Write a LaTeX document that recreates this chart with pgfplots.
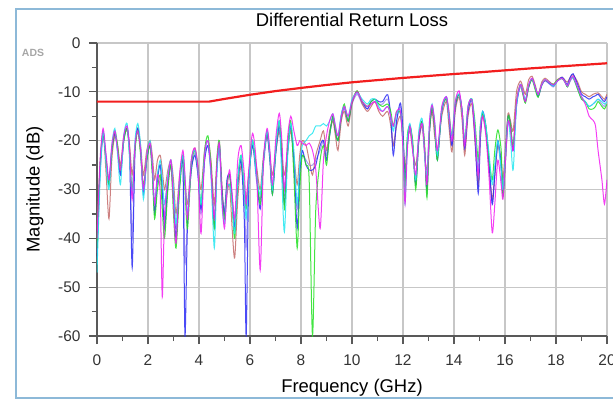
\documentclass[border=0pt]{standalone}
\usepackage{fontspec}
\setmainfont{Liberation Sans}
\usepackage{pgfplots}
\usepackage{pgfplotstable}
\pgfplotsset{compat=1.18}
\definecolor{sblue}{HTML}{2A2AF5}
\definecolor{smag}{HTML}{F21CF2}
\definecolor{scyan}{HTML}{22E6F0}
\definecolor{sgreen}{HTML}{22E022}
\definecolor{sbrown}{HTML}{C46A6A}
\definecolor{slav}{HTML}{9A8CF0}
\definecolor{limred}{HTML}{F21E1E}
\definecolor{frameblue}{HTML}{8DB9D8}

\pgfplotstableread{
f b m c g r l
0.00 -44 -40 -47 -42 -38 -43
0.12 -26 -24 -28 -25 -25 -27
0.24 -18.5 -17.5 -18 -18.5 -18 -19
0.36 -24 -23 -25 -24 -27 -24
0.47 -29 -28 -30 -29 -36 -28
0.58 -22 -21 -21 -22 -24 -22
0.70 -18.5 -18 -17.5 -18 -19 -18.5
0.81 -22 -22 -23 -21 -21 -22
0.92 -27 -26 -29 -26 -25 -27
1.05 -20 -19 -19 -20 -19 -20
1.18 -17.5 -17 -16.5 -17.5 -18 -17
1.28 -23 -22 -24 -23 -21 -22
1.38 -46 -32 -31 -30 -27 -40
1.49 -22 -21 -20 -22 -21 -22
1.60 -17.5 -18 -16.5 -18 -17.5 -17.5
1.71 -22 -22 -21 -23 -21 -22
1.82 -31 -30 -32 -29 -27 -30
1.95 -24 -23 -23 -24 -22 -24
2.08 -21 -20.5 -20 -21 -20 -21
2.17 -26 -25 -25 -27 -23 -26
2.26 -35 -33 -33 -36 -28 -34
2.37 -28 -27 -27 -30 -24 -27
2.48 -25 -31 -24 -27 -23 -25
2.56 -30 -52 -28 -34 -26 -31
2.65 -38 -35 -33 -40 -30 -36
2.78 -29 -28 -27 -30 -26 -28
2.90 -25 -24 -24 -25 -24 -25
3.00 -31 -33 -30 -35 -28 -32
3.10 -40 -41 -37 -42 -35 -38
3.24 -29 -27 -28 -30 -27 -29
3.37 -25 -22 -23 -23 -23 -24
3.45 -60 -27 -28 -30 -28 -45
3.55 -37 -36 -35 -38 -33 -36
3.70 -26 -24 -24 -25 -24 -26
3.84 -23 -21.5 -22 -22 -21.5 -22.5
3.96 -27 -26 -26 -26 -25 -27
4.08 -34 -39 -33 -33 -30 -35
4.22 -24 -23 -23 -22 -22 -24
4.35 -21 -20 -20 -19 -20 -21
4.47 -26 -26 -27 -25 -24 -27
4.60 -37 -36 -42 -38 -33 -38
4.70 -26 -25 -27 -24 -24 -26
4.80 -21 -20.5 -21 -20 -20.5 -21.5
4.90 -30 -32 -33 -31 -29 -31
5.00 -35 -38 -37 -36 -36 -34
5.10 -28 -30 -30 -29 -31 -28
5.20 -27 -26 -29 -27 -29 -27
5.30 -32 -31 -33 -33 -38 -31
5.40 -38 -36 -39 -40 -44 -37
5.52 -29 -24 -28 -28 -32 -29
5.65 -24 -21 -23 -23 -25 -24
5.78 -37 -27 -30 -30 -30 -32
5.85 -60 -33 -36 -34 -32 -42
5.95 -29 -26 -28 -27 -27 -28
6.10 -21 -18.5 -20 -20 -21 -21
6.25 -27 -25 -27 -26 -25 -28
6.40 -34 -46.5 -31 -33 -30 -32
6.53 -24 -24 -24 -24 -23 -25
6.67 -18.5 -17.5 -18 -18 -19 -19
6.78 -24 -22 -23 -23 -23 -24
6.88 -31 -29 -30 -31 -27 -30
7.02 -22 -19 -21 -21 -22 -22
7.15 -17 -14.4 -16 -16 -18 -17
7.25 -24 -20 -28 -22 -23 -24
7.35 -33 -30 -38.7 -34 -27 -31
7.48 -22 -19 -23 -21 -22 -22
7.60 -17 -15 -16.5 -16 -18 -17.5
7.72 -24 -18 -22 -27 -23 -25
7.85 -38 -21 -33 -42 -29 -34
7.95 -27 -20 -25 -30 -23 -27
8.05 -22 -20.5 -21 -23 -20 -23
8.20 -25 -21 -20 -25 -21 -24
8.32 -26 -20.5 -19 -28 -24 -25
8.45 -26 -22 -18.5 -60 -27 -25
8.58 -25 -26 -17 -34 -23 -24
8.75 -21 -38 -17 -24 -20 -22
8.88 -20 -24 -16.5 -21 -18 -20
9.00 -24 -19 -17 -25 -22 -23
9.12 -19 -16 -16 -19 -18 -19
9.25 -15 -14.5 -14.5 -15 -16 -15.5
9.35 -18 -17 -17 -18 -19 -18
9.45 -20 -19 -19 -20 -22 -20
9.58 -15 -15 -14.5 -15 -16 -15.5
9.70 -13 -13 -13 -12.5 -14 -13.5
9.85 -16 -15 -15 -16 -17 -16
10.00 -12 -12 -11.5 -12 -12.5 -12.5
10.20 -10 -10 -10.2 -9.8 -9.8 -10.5
10.40 -12 -12 -11.5 -12 -12.5 -12.5
10.60 -13.5 -13 -12.5 -13 -14 -13.5
10.75 -12 -12.5 -11.5 -12 -13 -12.5
10.90 -11.5 -12 -11.5 -11.5 -12 -12
11.05 -12 -13.5 -13 -12.5 -14 -12.5
11.20 -12 -14 -14 -13 -15 -12.5
11.40 -10.6 -13 -13 -12.5 -14 -11.5
11.52 -15 -15 -15 -14 -17 -15
11.62 -23 -17 -18 -17 -21 -21
11.75 -16 -14 -14.5 -14 -17 -16
11.90 -12.3 -14 -14 -14.5 -15 -13
12.00 -18 -22 -21 -20 -20 -19
12.08 -28 -33 -33 -30 -26 -29
12.17 -21 -22 -20 -19 -20 -21
12.27 -16.8 -17 -16.5 -17 -18 -17
12.38 -21 -22 -21 -20 -22 -21
12.50 -29 -27 -28 -30 -25 -29
12.62 -20 -19 -18 -19 -20 -20
12.75 -16 -16.5 -15.5 -16 -17 -16
12.85 -22 -22 -23 -21 -23 -22
12.94 -30 -29 -27 -31.7 -26 -31
13.04 -18 -16 -16 -18 -18 -18
13.14 -13 -12.7 -12.5 -13 -14 -13.5
13.24 -17 -16 -16 -17 -19 -17
13.35 -24 -22 -23 -24 -22 -23
13.52 -14 -13 -13.5 -13.5 -15 -14
13.70 -11 -11 -11 -11.5 -12 -11.5
13.80 -15 -14 -15 -14 -17 -15
13.92 -21 -20 -19 -19 -22.3 -21
14.05 -13 -12 -12 -12.5 -14 -13
14.20 -10.5 -9.8 -10.5 -10.5 -11 -10.5
14.32 -14 -14 -14 -14 -16 -14
14.42 -21.6 -21 -20 -20 -23 -21
14.55 -14 -13 -13 -13 -15 -14
14.70 -11.5 -11.7 -11.5 -11.5 -12.5 -12
14.82 -19 -18 -17 -16 -20 -19
14.95 -30.8 -27 -26 -24 -29 -29
15.03 -20 -18 -17 -17 -20 -19
15.12 -14 -15 -14 -14.5 -15 -14.5
15.25 -17 -19 -17 -17 -18 -18
15.38 -25 -28 -23 -24 -26 -25
15.50 -33 -38.9 -29 -28 -32 -33
15.60 -27 -33 -25 -22 -27 -27
15.72 -20 -24 -20 -17.8 -21 -21
15.85 -25 -29 -26 -22 -24 -26
15.92 -31 -32 -30 -31.5 -28 -31
16.02 -23 -24 -23 -24 -21 -24
16.12 -15 -16 -16 -15 -14.4 -16
16.22 -17 -18 -20 -17 -16 -18
16.32 -22 -22 -26 -21 -18 -22
16.45 -13 -12 -13 -12 -10 -12.5
16.60 -8.5 -8.5 -8.5 -8.5 -7.8 -9
16.70 -10 -10 -10 -10.5 -9 -10.5
16.80 -12 -12 -11.5 -12.3 -10.5 -12
16.93 -9 -8.5 -8.5 -9 -7.5 -9
17.06 -7.3 -7.2 -7.3 -7.5 -6.8 -7.5
17.18 -9 -9 -9 -9.5 -8.5 -9
17.30 -11 -10.5 -10.5 -11.1 -10.5 -10.5
17.44 -8.7 -8.5 -8.5 -8.5 -8 -8.5
17.57 -7.6 -7.5 -7.5 -7.6 -7.2 -7.8
17.72 -8.2 -8 -8 -8 -7.8 -8.3
17.90 -8.8 -8.6 -8.8 -8.5 -8.5 -9
18.05 -7.8 -7.8 -7.8 -7.6 -7.5 -7.8
18.24 -7 -7.2 -7.2 -7.3 -7 -7.2
18.35 -7.8 -8 -8 -8 -7.6 -8
18.45 -8.5 -8.8 -8.8 -9 -8 -9
18.56 -7 -7.5 -7.5 -7.5 -7 -7.8
18.67 -6.3 -6.8 -7 -7 -6.5 -7.2
18.85 -8.5 -9 -9 -9.5 -8 -9.5
19.00 -10.5 -11 -11 -11.5 -10 -11.5
19.15 -11 -12.5 -12 -12 -10.5 -12
19.30 -11.5 -15 -13 -13.5 -11 -13
19.45 -11 -15.8 -12.5 -13.5 -10.5 -12.5
19.55 -10.8 -17 -12 -13 -10.3 -12
19.65 -10.5 -22 -11.5 -12 -10.2 -11.5
19.80 -11.5 -28 -12 -13 -11 -12.5
19.90 -12 -33 -12.5 -13.5 -11.5 -13
20.00 -11 -28 -12 -12.5 -10.5 -12
}\rl

\begin{document}
\begin{tikzpicture}
\begin{axis}[
  at={(0,0)}, anchor=south west,
  scale only axis, width=510bp, height=293bp,
  xmin=0, xmax=20, ymin=-60, ymax=0,
  axis lines=left, axis line style={-, black!65, line width=1.6bp},
  xtick={0,2,...,20}, ytick={-60,-50,...,0},
  minor x tick num=1, minor y tick num=1,
  tick align=outside, major tick length=8bp, minor tick length=5bp,
  every tick/.style={black!65, line width=1.2bp},
  grid=major, major grid style={black!22, line width=1.1bp},
  /pgf/number format/assume math mode=true,
  tick label style={font=\fontsize{15.5}{15.5}\selectfont, text=black!80},
  xticklabel style={anchor=north, yshift=-7bp},
  yticklabel style={anchor=east, xshift=-5bp},
  title={Differential Return Loss},
  title style={at={(axis description cs:0.5,1.058)}, anchor=center, font=\fontsize{18.5}{20}\selectfont},
  xlabel={Frequency (GHz)},
  xlabel style={at={(axis description cs:0.5,-0.175)}, anchor=center, font=\fontsize{18.5}{20}\selectfont},
  ylabel={Magnitude (dB)},
  ylabel style={at={(axis description cs:-0.122,0.5)}, anchor=center, font=\fontsize{18.5}{20}\selectfont},
  every axis plot/.append style={line width=1bp, smooth, tension=0.45, opacity=0.85},
]
\addplot[slav] table[x=f,y=l]{\rl};
\addplot[sbrown] table[x=f,y=r]{\rl};
\addplot[sblue] table[x=f,y=b]{\rl};
\addplot[sgreen] table[x=f,y=g]{\rl};
\addplot[scyan] table[x=f,y=c]{\rl};
\addplot[smag] table[x=f,y=m]{\rl};
\addplot[limred, line width=2.2bp, sharp plot, opacity=1] coordinates {
(0,-12) (4.4,-12) (5,-11.45) (6,-10.6) (7,-9.85) (8,-9.2) (9,-8.6) (10,-8.05)
(11,-7.6) (12,-7.15) (13,-6.75) (14,-6.35) (15,-6) (16,-5.6) (17,-5.2)
(18,-4.85) (19,-4.5) (20,-4.15)};
\end{axis}
\node[text=black!35, font=\fontsize{10.5}{11}\selectfont\bfseries] at (-64bp,283bp) {ADS};
\draw[frameblue, line width=1.5bp] (-81bp,-62bp) rectangle (540bp,327bp);
\pgfresetboundingbox
\useasboundingbox (-97bp,-65bp) rectangle (516bp,336bp);
\end{tikzpicture}
\end{document}
